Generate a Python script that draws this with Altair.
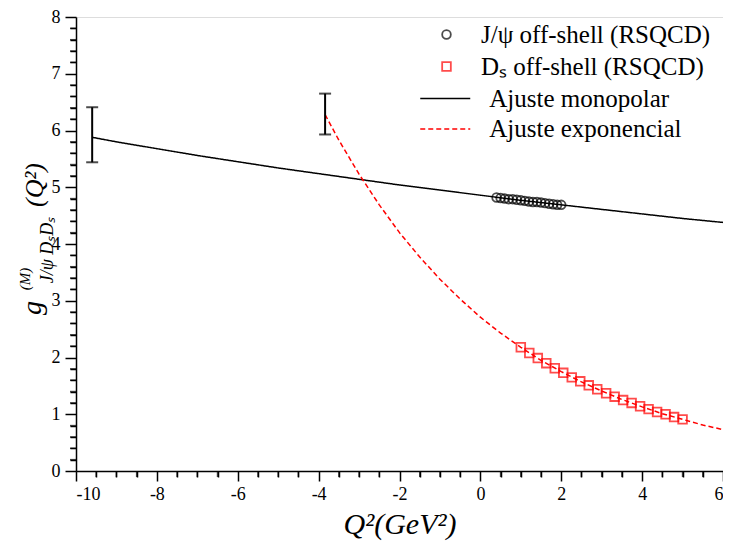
import altair as alt
import pandas as pd

# ---------------- data ----------------
mono_q2 = [-9.6, -9, -8, -7, -6, -5, -4, -3, -2, -1, 0, 1, 2, 3, 4, 5, 6]
mono_g = [5.88, 5.80, 5.68, 5.56, 5.45, 5.34, 5.24, 5.14, 5.04, 4.95, 4.86,
          4.77, 4.69, 4.61, 4.53, 4.45, 4.38]

exp_q2 = [-3.84, -3.5, -3, -2.5, -2, -1.5, -1, -0.5, 0, 0.5, 1, 1.5, 2, 2.5,
          3, 3.5, 4, 4.5, 5, 5.5, 6]
exp_g = [6.28, 5.83, 5.23, 4.69, 4.20, 3.77, 3.38, 3.03, 2.71, 2.43, 2.18,
         1.95, 1.75, 1.57, 1.41, 1.26, 1.13, 1.01, 0.91, 0.81, 0.73]

jpsi_q2 = [0.4, 0.5, 0.6, 0.7, 0.8, 0.9, 1.0, 1.1, 1.2, 1.3, 1.4, 1.5, 1.6,
           1.7, 1.8, 1.9, 2.0]
jpsi_g = [4.82, 4.81, 4.80, 4.79, 4.79, 4.78, 4.77, 4.76, 4.75, 4.74, 4.74,
          4.73, 4.72, 4.71, 4.70, 4.69, 4.69]

ds_q2 = [1.00, 1.21, 1.42, 1.63, 1.84, 2.05, 2.26, 2.47, 2.68, 2.89, 3.11,
         3.32, 3.53, 3.74, 3.95, 4.16, 4.37, 4.58, 4.79, 5.00]
ds_g = [2.18, 2.08, 1.99, 1.90, 1.81, 1.73, 1.65, 1.58, 1.51, 1.44, 1.37,
        1.31, 1.25, 1.20, 1.14, 1.09, 1.04, 1.00, 0.95, 0.91]

err_q2 = [-9.6, -3.84]
err_lo = [5.44, 5.93]
err_hi = [6.41, 6.65]

series_names = ["J/ψ off-shell (RSQCD)", "Dₛ off-shell (RSQCD)"]
fit_names = ["Ajuste monopolar", "Ajuste exponencial"]

# axis ticks: majors labelled, minors unlabelled
x_ticks = [-10, -9.5, -9, -8.5, -8, -7.5, -7, -6.5, -6, -5.5, -5, -4.5, -4,
           -3.5, -3, -2.5, -2, -1.5, -1, -0.5, 0, 0.5, 1, 1.5, 2, 2.5, 3, 3.5,
           4, 4.5, 5, 5.5, 6]
y_ticks = [round(i * 0.2, 1) for i in range(0, 41)]
x_minor = [v for v in x_ticks if abs(v % 2) > 0.001]
y_minor = [v for v in y_ticks if abs(v - round(v)) > 0.001]

x_title = "Q²(GeV²)"
ytitle_parts = ["g", "(M)", "J/ψ DₛDₛ", "(Q²)"]

FONT = "Liberation Serif"
W, H = 647, 454

# ---------------- tables ----------------
lines_df = pd.DataFrame({
    "q2": mono_q2 + exp_q2,
    "g": mono_g + exp_g,
    "ajuste": [fit_names[0]] * len(mono_q2) + [fit_names[1]] * len(exp_q2),
})
pts_df = pd.DataFrame({
    "q2": jpsi_q2 + ds_q2,
    "g": jpsi_g + ds_g,
    "serie": [series_names[0]] * len(jpsi_q2) + [series_names[1]] * len(ds_q2),
})
err_df = pd.DataFrame({"q2": err_q2, "lo": err_lo, "hi": err_hi})
xminor_df = pd.DataFrame({"xm": x_minor})
yminor_df = pd.DataFrame({"ym": y_minor})

xs = alt.Scale(domain=[-10, 6], nice=False, zero=False)
ys = alt.Scale(domain=[0, 8], nice=False, zero=False)

common = dict(domainColor="black", domainWidth=1.5, tickColor="black",
              tickWidth=1.5, grid=False, labelFont=FONT, labelFontSize=18,
              labelColor="black", labelOverlap=False, labelBound=False,
              tickCount=500)

x_major_test = "abs(datum.value % 2) < 0.001"
y_major_test = "abs(datum.value - round(datum.value)) < 0.001"

x_main = alt.Axis(
    orient="bottom", values=x_ticks,
    tickSize={"condition": {"test": x_major_test, "value": 10}, "value": 6},
    labelPadding=4,
    labelExpr="abs(datum.value % 2) < 0.001 ? '' + datum.value : ''",
    title=x_title, titleFont=FONT, titleFontStyle="italic",
    titleFontWeight="normal", titleFontSize=30, titleColor="black",
    titlePadding=6, **common)
y_main = alt.Axis(
    orient="left", values=y_ticks,
    tickSize={"condition": {"test": y_major_test, "value": 11}, "value": 6},
    labelPadding=5,
    labelExpr="abs(datum.value - round(datum.value)) < 0.001 ? '' + datum.value : ''",
    title=None, **common)

leg_pts = alt.Legend(orient="none", legendX=358, legendY=5, title=None,
                     symbolSize=75, symbolStrokeWidth=1.8, labelFont=FONT,
                     labelFontSize=25, labelColor="black", labelOffset=22,
                     rowPadding=6, padding=0, labelLimit=400)
leg_fit = alt.Legend(orient="none", legendX=356.75, legendY=69, title=None,
                     symbolType="M-5,0L5,0", symbolSize=100,
                     symbolStrokeWidth=1.5, labelFont=FONT, labelFontSize=25,
                     labelColor="black", labelOffset=31.5, rowPadding=4.5,
                     padding=0, labelLimit=400)

lines = alt.Chart(lines_df).mark_line(strokeWidth=1.5).encode(
    x=alt.X("q2:Q", scale=xs, axis=x_main),
    y=alt.Y("g:Q", scale=ys, axis=y_main),
    stroke=alt.Stroke("ajuste:N", scale=alt.Scale(domain=fit_names, range=["black", "red"]), legend=leg_fit),
    strokeDash=alt.StrokeDash("ajuste:N", scale=alt.Scale(domain=fit_names, range=[[1, 0], [5, 3]]), legend=leg_fit),
)

# minor ticks drawn again as marks (same place as the axis minor ticks)
xminor = alt.Chart(xminor_df).mark_tick(
    orient="vertical", size=6, thickness=1.5, color="black", clip=False
).encode(x=alt.X("xm:Q", scale=xs), y=alt.value(H + 3))
yminor = alt.Chart(yminor_df).mark_tick(
    orient="horizontal", size=6, thickness=1.5, color="black", clip=False
).encode(y=alt.Y("ym:Q", scale=ys), x=alt.value(-3))

rule = alt.Chart(err_df).mark_rule(strokeWidth=2, color="black").encode(
    x=alt.X("q2:Q", scale=xs),
    y=alt.Y("lo:Q", scale=ys),
    y2="hi:Q",
)

caps = alt.Chart(err_df).transform_fold(["lo", "hi"], as_=["k", "v"]).mark_tick(
    orient="horizontal", size=12, thickness=2, color="black"
).encode(
    x=alt.X("q2:Q", scale=xs),
    y=alt.Y("v:Q", scale=ys),
)

pts = alt.Chart(pts_df).mark_point(filled=False, size=75, strokeWidth=1.8).encode(
    x=alt.X("q2:Q", scale=xs),
    y=alt.Y("g:Q", scale=ys),
    color=alt.Color("serie:N", scale=alt.Scale(domain=series_names, range=["black", "red"]), legend=leg_pts),
    shape=alt.Shape("serie:N", scale=alt.Scale(domain=series_names, range=["circle", "square"]), legend=leg_pts),
)

# y-axis title pieces (rotated text outside the plot area)
ytitle_style = [(-43, 291, 28), (-51, 262, 15), (-28, 233, 18), (-41, 168, 26)]
ytexts = []
for part, (xv, yv, fs) in zip(ytitle_parts, ytitle_style):
    ytexts.append(
        alt.Chart(pd.DataFrame({"t": [part]})).mark_text(
            angle=270, font=FONT, fontStyle="italic", fontSize=fs,
            color="black", align="center", baseline="middle"
        ).encode(text="t:N", x=alt.value(xv), y=alt.value(yv))
    )

chart = alt.layer(lines, xminor, yminor, rule, caps, pts, *ytexts).properties(
    width=W, height=H,
    padding={"left": 68, "top": 9, "right": 0, "bottom": 72},
    autosize=alt.AutoSizeParams(type="none"),
).configure_view(stroke="black", strokeWidth=1.5).configure(font=FONT)

chart.save("out.html", embed_options={"renderer": "svg", "actions": False})
